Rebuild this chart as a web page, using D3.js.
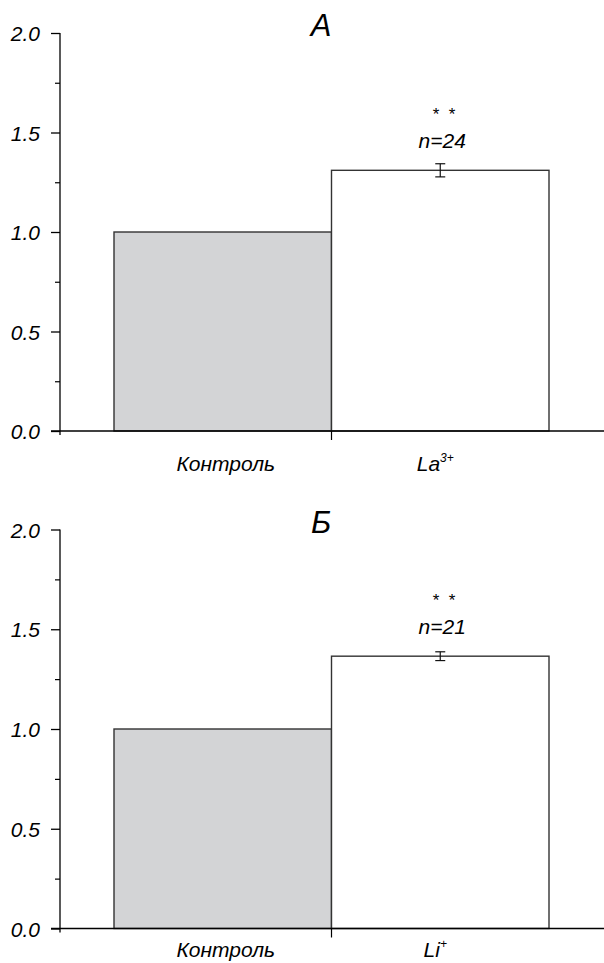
<!DOCTYPE html>
<html>
<head>
<meta charset="utf-8">
<script src="https://cdn.jsdelivr.net/npm/d3@7"></script>
<style>
  html, body { margin: 0; padding: 0; background: #fff; }
  svg text { font-family: "Liberation Sans", Arial, sans-serif; font-style: italic; fill: #000; }
</style>
</head>
<body>
<svg id="chart" width="604" height="963"></svg>
<script>
// Panel data: relative response, control vs. ion treatment
const panelTitles = ["А", "Б"];
const controlLabel = "Контроль";
const treatmentIons = ["La", "Li"];
const treatmentCharges = ["3+", "+"];
const controlValues = [1.0, 1.0];
const treatmentValues = [1.31, 1.365];
const treatmentErrors = [0.033, 0.022];
const sampleSizes = [24, 21];
const significanceMarks = ["*  *", "*  *"];
const yMajorTicks = [0, 0.5, 1.0, 1.5, 2.0];
const yMinorTicks = [0.25, 0.75, 1.25, 1.75];
const yTickLabels = ["0.0", "0.5", "1.0", "1.5", "2.0"];

const svg = d3.select("#chart");
const FONT = '"Liberation Sans", Arial, sans-serif';

// vertical placement of each panel: y of 0, y of 2.0, baseline offset of category labels
const panelFrames = [
  { base: 431, top: 33, labelOffset: 40 },
  { base: 928.5, top: 529.5, labelOffset: 28.5 }
];
const axisLeft = 60, axisRight = 604;
const barLeft = 114, barRight = 549;

panelFrames.forEach((frame, i) => {
  const g = svg.append("g");

  const y = d3.scaleLinear().domain([0, 2]).range([frame.base, frame.top]);
  const cats = [controlLabel, treatmentIons[i]];
  const x = d3.scaleBand().domain(cats).range([barLeft, barRight]).padding(0);
  const vals = [controlValues[i], treatmentValues[i]];

  // bars
  g.selectAll("rect.bar").data(cats).join("rect")
    .attr("class", "bar")
    .attr("x", d => x(d))
    .attr("width", x.bandwidth())
    .attr("y", (d, k) => y(vals[k]))
    .attr("height", (d, k) => y(0) - y(vals[k]))
    .attr("fill", (d, k) => k === 0 ? "#d3d4d6" : "#ffffff")
    .attr("stroke", "#333")
    .attr("stroke-width", 1.4);

  // error bar on treatment bar
  const cx = x(cats[1]) + x.bandwidth() / 2;
  const v = treatmentValues[i], e = treatmentErrors[i];
  const eb = g.append("g").attr("stroke", "#111").attr("stroke-width", 1.2);
  eb.append("line").attr("x1", cx).attr("x2", cx).attr("y1", y(v + e)).attr("y2", y(v - e));
  eb.append("line").attr("x1", cx - 5).attr("x2", cx + 5).attr("y1", y(v + e)).attr("y2", y(v + e));
  eb.append("line").attr("x1", cx - 5).attr("x2", cx + 5).attr("y1", y(v - e)).attr("y2", y(v - e));

  // y axis: major and minor ticks
  const yAxis = d3.axisLeft(y).tickValues(yMajorTicks).tickSize(9).tickPadding(11)
    .tickFormat((d, k) => yTickLabels[k]);
  const ya = g.append("g").attr("transform", `translate(${axisLeft},0)`).call(yAxis);
  ya.attr("font-family", FONT).attr("font-size", 21);
  ya.select(".domain").remove();
  ya.selectAll(".tick line").attr("stroke", "#000").attr("stroke-width", 1.3);
  ya.selectAll(".tick text")
    .attr("font-style", "italic")
    .attr("dy", "0.36em");
  const yMinor = d3.axisLeft(y).tickValues(yMinorTicks).tickSize(5).tickFormat("");
  const ym = g.append("g").attr("transform", `translate(${axisLeft},0)`).call(yMinor);
  ym.select(".domain").remove();
  ym.selectAll(".tick line").attr("stroke", "#000").attr("stroke-width", 1.2);

  // axis lines
  g.append("line").attr("x1", axisLeft).attr("x2", axisLeft)
    .attr("y1", y(2)).attr("y2", y(0) + 4)
    .attr("stroke", "#000").attr("stroke-width", 1.3);
  g.append("line").attr("x1", axisLeft - 9).attr("x2", axisRight)
    .attr("y1", y(0)).attr("y2", y(0))
    .attr("stroke", "#000").attr("stroke-width", 1.5);
  // x boundary tick between the two groups
  const mid = x(cats[1]);
  g.append("line").attr("x1", mid).attr("x2", mid)
    .attr("y1", y(0)).attr("y2", y(0) + 9)
    .attr("stroke", "#000").attr("stroke-width", 1.2);

  // category labels
  const labelY = y(0) + frame.labelOffset;
  g.append("text").attr("x", x(cats[0]) + x.bandwidth() / 2 + 3).attr("y", labelY)
    .attr("text-anchor", "middle").attr("font-size", 21).text(controlLabel);
  const tl = g.append("text").attr("x", cx - 5).attr("y", labelY)
    .attr("text-anchor", "middle").attr("font-size", 21);
  tl.append("tspan").text(treatmentIons[i]);
  tl.append("tspan").attr("font-size", 12).attr("dy", -9).text(treatmentCharges[i]);

  // annotations above treatment bar
  g.append("text").attr("x", cx + 3).attr("y", y(v) - 50)
    .attr("text-anchor", "middle").attr("font-size", 17).attr("font-style", "normal")
    .attr("xml:space", "preserve").style("white-space", "pre")
    .text(significanceMarks[i]);
  g.append("text").attr("x", cx + 2).attr("y", y(v) - 22)
    .attr("text-anchor", "middle").attr("font-size", 21).text("n=" + sampleSizes[i]);

  // panel title
  g.append("text").attr("x", 321).attr("y", frame.top + 3)
    .attr("text-anchor", "middle").attr("font-size", 31).text(panelTitles[i]);
});
</script>
</body>
</html>
